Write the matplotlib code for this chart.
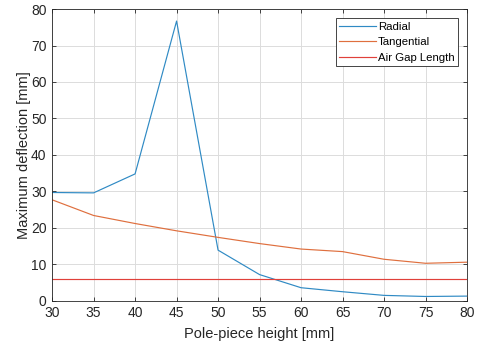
import matplotlib
matplotlib.use("Agg")
import matplotlib.pyplot as plt

# pole-piece heights [mm]
height = [30, 35, 40, 45, 50, 55, 60, 65, 70, 75, 80]

# maximum deflection [mm]
radial = [29.7, 29.6, 34.8, 76.7, 13.9, 7.2, 3.6, 2.5, 1.5, 1.2, 1.3]
tangential = [27.7, 23.4, 21.2, 19.2, 17.4, 15.7, 14.2, 13.5, 11.4, 10.3, 10.6]
air_gap = 6.0

plt.rcParams['font.family'] = ['Liberation Sans', 'DejaVu Sans']

fig = plt.figure(figsize=(4.78, 3.47), dpi=100)
ax = fig.add_axes([0.109, 0.133, 0.868, 0.841])

ax.plot(height, radial, color='#2f8ac4', lw=0.85, label='Radial')
ax.plot(height, tangential, color='#df6f3e', lw=0.85, label='Tangential')
ax.plot([height[0], height[-1]], [air_gap, air_gap], color='#e0403a', lw=0.85,
        label='Air Gap Length')

ax.set_xlim(30, 80)
ax.set_ylim(0, 80)
ax.set_xticks(range(30, 81, 5))
ax.set_yticks(range(0, 81, 10))
ax.grid(True, color='#dcdcdc', lw=0.7)
ax.set_axisbelow(True)

# matlab-ish box and ticks
for s in ax.spines.values():
    s.set_color('#262626')
    s.set_linewidth(0.6)
ax.tick_params(direction='in', top=True, right=True, length=3, width=0.6,
               colors='#262626', labelsize=10, pad=4)
ax.set_xlabel('Pole-piece height [mm]', fontsize=10.5, color='#262626', labelpad=5)
ax.set_ylabel('Maximum deflection [mm]', fontsize=10.5, color='#262626', labelpad=0)

leg = ax.legend(loc='upper right', fontsize=8.2, fancybox=False, framealpha=1,
                edgecolor='#262626', borderpad=0.3, handlelength=3.2,
                handletextpad=0.2, labelspacing=0.5, borderaxespad=0.8)
leg.get_frame().set_linewidth(0.6)

fig.savefig('out.png', dpi=100)
